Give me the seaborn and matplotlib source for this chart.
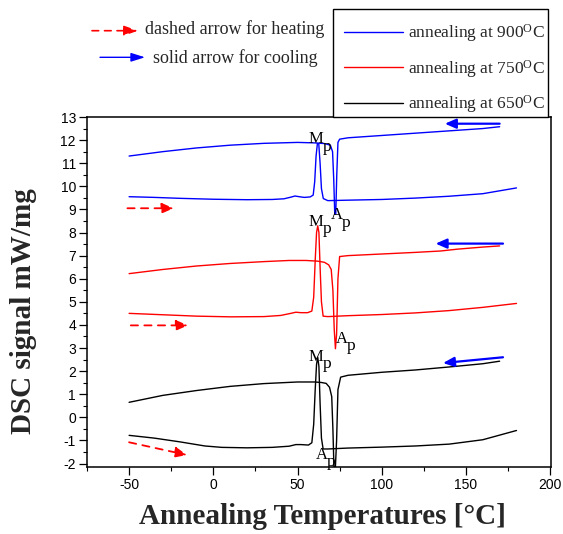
import matplotlib
matplotlib.use("Agg")
import matplotlib.pyplot as plt
from matplotlib.lines import Line2D
from matplotlib.patches import FancyArrowPatch, Rectangle
from matplotlib.ticker import MultipleLocator
import pandas as pd
import seaborn as sns

# ---------------------------------------------------------------- data
samples = ["900", "750", "650"]
colors = ["#0000ff", "#ff0000", "#000000"]

# 900 °C anneal
t900_heat = [-50, -35, -20, 0, 20, 35, 42, 46, 48.5, 51, 54, 57.5, 59.3, 60.2, 61.0,
             61.8, 62.6, 63.4, 64.2, 65.3, 68, 80, 100, 120, 140, 160, 180]
s900_heat = [9.55, 9.52, 9.48, 9.44, 9.42, 9.43, 9.46, 9.53, 9.58, 9.55, 9.52, 9.54, 9.62,
             10.2, 11.3, 11.85, 11.85, 11.0, 9.9, 9.47, 9.38, 9.40, 9.43, 9.49, 9.57, 9.68, 9.93]
t900_cool = [-50, -30, -10, 10, 30, 50, 60, 66, 69.5, 70.8, 71.5, 72.1, 72.7, 73.3, 74.0,
             75, 80, 100, 120, 140, 160, 170]
s900_cool = [11.31, 11.5, 11.66, 11.78, 11.86, 11.9, 11.88, 11.85, 11.78, 11.5, 10.3, 8.8,
             8.8, 10.5, 11.9, 12.04, 12.1, 12.2, 12.3, 12.4, 12.5, 12.58]

# 750 °C anneal
t750_heat = [-50, -30, -10, 10, 30, 40, 46, 49, 52, 56, 58.5, 59.6, 60.5, 61.3, 62.0, 62.7,
             63.4, 64.2, 65.2, 68, 80, 100, 120, 140, 160, 180]
s750_heat = [4.5, 4.44, 4.38, 4.35, 4.36, 4.41, 4.5, 4.55, 4.53, 4.53, 4.6, 5.2, 6.8, 8.0,
             8.29, 8.0, 6.5, 5.0, 4.38, 4.36, 4.40, 4.45, 4.52, 4.62, 4.76, 4.93]
t750_cool = [-50, -30, -10, 10, 30, 45, 55, 62, 66, 68.5, 70, 71, 71.8, 72.5, 73.2, 74, 75,
             80, 100, 120, 135, 145, 160, 170]
s750_cool = [6.22, 6.4, 6.55, 6.66, 6.74, 6.79, 6.79, 6.76, 6.71, 6.6, 6.4, 5.5, 3.8, 2.97,
             3.6, 6.0, 6.96, 7.0, 7.07, 7.14, 7.2, 7.28, 7.37, 7.42]

# 650 °C anneal
t650_heat = [-50, -35, -20, -5, 5, 20, 35, 45, 49, 52, 56.5, 58.5, 59.6, 60.5, 61.3, 62.0,
             62.7, 63.4, 64.2, 65.2, 68, 80, 100, 120, 140, 160, 180]
s650_heat = [-0.78, -0.9, -1.06, -1.24, -1.3, -1.32, -1.3, -1.25, -1.18, -1.18, -1.2, -1.1,
             -0.3, 1.2, 2.3, 2.6, 2.2, 0.6, -0.9, -1.37, -1.37, -1.33, -1.29, -1.24, -1.16,
             -0.97, -0.57]
t650_cool = [-50, -30, -10, 10, 30, 50, 60, 64, 67, 69, 70.3, 71.0, 71.6, 72.4, 73.2, 74,
             75.6, 80, 100, 120, 140, 160, 170]
s650_cool = [0.65, 0.95, 1.16, 1.34, 1.46, 1.53, 1.53, 1.51, 1.47, 1.3, 0.9, -0.5, -2.1, -2.3,
             -1.0, 1.2, 1.74, 1.82, 1.95, 2.05, 2.18, 2.32, 2.43]

# peak labels (M_p / A_p): letter, temperature, signal
peak_letters = ["M", "A", "M", "A", "M", "A"]
peak_T = [56.6, 69.7, 56.6, 72.6, 56.6, 60.8]
peak_s = [11.88, 8.59, 8.29, 3.23, 2.45, -1.79]

# direction arrows drawn next to each curve pair: (tail), (head)
heat_tail_T = [-51, -49, -50]
heat_tail_s = [9.05, 3.98, -1.08]
heat_head_T = [-23.5, -15, -15.6]
heat_head_s = [9.05, 3.98, -1.63]
cool_tail_T = [170, 172, 172]
cool_tail_s = [12.71, 7.52, 2.6]
cool_head_T = [137.5, 132, 136.4]
cool_head_s = [12.71, 7.52, 2.35]

x_ticks = [-50, 0, 50, 100, 150, 200]
y_ticks = list(range(-2, 14))

# ---------------------------------------------------------------- frame
curves = {
    "900": (t900_heat, s900_heat, t900_cool, s900_cool),
    "750": (t750_heat, s750_heat, t750_cool, s750_cool),
    "650": (t650_heat, s650_heat, t650_cool, s650_cool),
}
rows = []
for name, (th, sh, tc, sc) in curves.items():
    rows.append(pd.DataFrame({"T": th, "signal": sh, "anneal": name, "branch": "heating"}))
    rows.append(pd.DataFrame({"T": tc, "signal": sc, "anneal": name, "branch": "cooling"}))
df = pd.concat(rows, ignore_index=True)

# ---------------------------------------------------------------- style
sns.set_theme(style="ticks")
plt.rcParams["font.family"] = ["Liberation Serif", "DejaVu Serif"]
plt.rcParams["mathtext.fontset"] = "custom"
plt.rcParams["mathtext.rm"] = "Liberation Serif"
plt.rcParams["mathtext.it"] = "Liberation Serif:italic"
plt.rcParams["mathtext.bf"] = "Liberation Serif:bold"
plt.rcParams["axes.edgecolor"] = "black"
plt.rcParams["xtick.color"] = "black"
plt.rcParams["ytick.color"] = "black"
plt.rcParams["axes.unicode_minus"] = False

W, H = 563, 534
fig = plt.figure(figsize=(W / 100, H / 100), dpi=100)
fig.patch.set_facecolor("white")
ax = fig.add_axes([87 / W, 1 - 467 / H, 464 / W, 350 / H])
ax.set_facecolor("white")

for name, col in zip(samples, colors):
    sub = df[df["anneal"] == name]
    sns.lineplot(data=sub, x="T", y="signal", units="branch", estimator=None,
                 sort=False, color=col, lw=1.0, legend=False, ax=ax)

# direction arrows on the curves
for i in range(3):
    ax.annotate("", xy=(heat_head_T[i], heat_head_s[i]),
                xytext=(heat_tail_T[i], heat_tail_s[i]),
                arrowprops=dict(arrowstyle="-|>,head_length=0.6,head_width=0.26",
                                color="#ff0000", lw=1.3, linestyle=(0, (4, 3.5)),
                                shrinkA=0, shrinkB=0, mutation_scale=12))
    ax.annotate("", xy=(cool_head_T[i], cool_head_s[i]),
                xytext=(cool_tail_T[i], cool_tail_s[i]),
                arrowprops=dict(arrowstyle="-|>,head_length=0.55,head_width=0.24",
                                color="#0000ff", lw=1.6,
                                shrinkA=0, shrinkB=0, mutation_scale=12))

# peak labels with lowered "p"
for letter, T, s in zip(peak_letters, peak_T, peak_s):
    ax.text(T, s, letter, ha="left", va="baseline", fontsize=12, color="black")
    dx = 10 if letter == "M" else 7.8
    ax.annotate("p", xy=(T, s), xytext=(dx, -5.5), textcoords="offset points",
                ha="left", va="baseline", fontsize=12.5, color="black")

# axes
ax.set_xlim(-75, 200.5)
ax.set_ylim(-2.15, 13.0)
ax.set_xticks(x_ticks)
ax.set_yticks(y_ticks)
ax.xaxis.set_minor_locator(MultipleLocator(25))
ax.yaxis.set_minor_locator(MultipleLocator(0.5))
ax.tick_params(which="major", direction="out", length=5.5, width=0.9, labelsize=10,
               pad=2.5, labelfontfamily="Liberation Sans")
ax.tick_params(which="minor", direction="out", length=3, width=0.8)
for sp in ax.spines.values():
    sp.set_visible(True)
    sp.set_linewidth(1.1)
    sp.set_color("black")

ax.set_xlabel("Annealing Temperatures [°C]", fontsize=21, fontweight="bold")
ax.set_ylabel("DSC signal mW/mg", fontsize=21, fontweight="bold")
ax.xaxis.set_label_coords(0.507, -0.102)
ax.yaxis.set_label_coords(-0.108, 0.446)

# legend box for the three anneals
fig.add_artist(Rectangle((333 / W, 1 - 117 / H), 215 / W, 108 / H,
                         transform=fig.transFigure, facecolor="white",
                         edgecolor="black", lw=1.0, zorder=3))
handles = [Line2D([], [], color=c, lw=1.0) for c in colors]
labels = [f"annealing at {s}$^{{\\rm O}}$C" for s in samples]
leg = fig.legend(handles, labels, loc="upper left", bbox_to_anchor=(344 / W, 1 - 22.5 / H),
                 frameon=False, fontsize=12.5, handlelength=3.4, handletextpad=0.3,
                 labelspacing=0.78, borderpad=0, borderaxespad=0)
leg.set_zorder(4)

# key for the arrow styles
fig.add_artist(FancyArrowPatch(
    (92 / W, 1 - 30.7 / H), (138 / W, 1 - 30.7 / H), transform=fig.transFigure,
    arrowstyle="-|>,head_length=0.7,head_width=0.25", color="#ff0000", lw=1.2,
    linestyle=(0, (4, 3.5)), mutation_scale=12, shrinkA=0, shrinkB=0))
fig.add_artist(FancyArrowPatch(
    (100 / W, 1 - 57.3 / H), (145 / W, 1 - 57.3 / H), transform=fig.transFigure,
    arrowstyle="-|>,head_length=0.7,head_width=0.22", color="#0000ff", lw=1.0,
    mutation_scale=12, shrinkA=0, shrinkB=0))
fig.text(145 / W, 1 - 34 / H, "dashed arrow for heating", fontsize=13,
         ha="left", va="baseline")
fig.text(152.7 / W, 1 - 63.3 / H, "solid arrow for cooling", fontsize=13,
         ha="left", va="baseline")

fig.savefig("out.png", dpi=100, facecolor="white")
